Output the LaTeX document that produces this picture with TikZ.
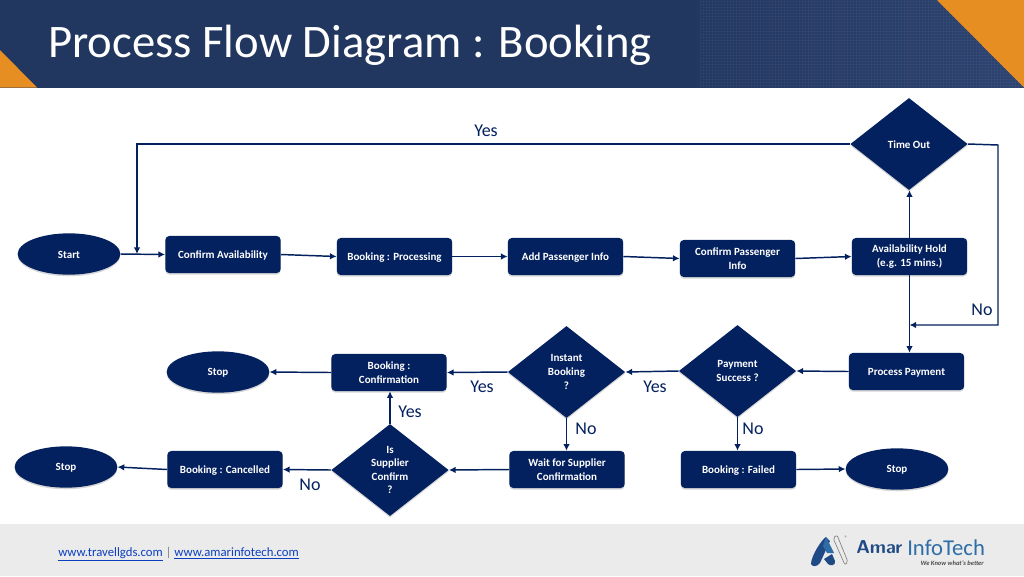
\documentclass[tikz,border=0pt]{standalone}
\usepackage{fontspec}
\setmainfont{Carlito}
\usetikzlibrary{shapes.geometric,arrows.meta,shadows}
\definecolor{navy}{HTML}{04215F}
\definecolor{hdr}{HTML}{22375F}
\definecolor{hdrb}{HTML}{2C4270}
\definecolor{org}{HTML}{E68E22}
\definecolor{foot}{HTML}{EBEBEB}
\definecolor{lnk}{HTML}{0B3FC0}
\definecolor{logoa}{HTML}{1F4A86}
\definecolor{logob}{HTML}{2E6DA8}
\tikzset{
  x=0.75pt,y=-0.75pt,
  shad/.style={drop shadow={opacity=.16,shadow xshift=0pt,shadow yshift=-1.2pt,fill=black}},
  txt/.style={text=white,font=\bfseries\fontsize{8.25}{10.2}\selectfont,align=center,inner sep=0pt,execute at begin node={\rule{0pt}{6.9pt}}},
  bx/.style={txt,fill=navy,rounded corners=3pt,minimum width=86.5pt,minimum height=27.8pt,shad},
  endcap/.style={txt,ellipse,fill=navy,minimum width=77pt,minimum height=31pt,shad},
  dec/.style={txt,diamond,fill=navy,aspect=1.28,minimum width=88pt,minimum height=69pt,shad},
  conn/.style={draw=navy,line width=1.1pt,-{Latex[length=5pt,width=5pt]}},
  lab/.style={text=navy,font=\fontsize{13.5}{15}\selectfont,inner sep=0pt,yshift=-.6pt},
}
\begin{document}
\begin{tikzpicture}
\useasboundingbox (0,0) rectangle (1024,576);
\fill[white] (0,0) rectangle (1024,576);
% header
\fill[hdr] (0,0) rectangle (1024,87.5);
\shade[left color=hdr,right color=hdrb] (680,0) rectangle (1024,87.5);
\foreach \k in {0,1,...,28}{\draw[white,opacity=.035,line width=.3pt] (700,\k*3+1) -- (1024,\k*3+1);}
\foreach \k in {0,1,...,108}{\draw[white,opacity=.035,line width=.3pt] (700+\k*3,0) -- (700+\k*3,87.5);}
\fill[org] (0,50) -- (37,87.5) -- (0,87.5) -- cycle;
\fill[org] (937,0) -- (1024,0) -- (1024,87.5) -- cycle;
\node[anchor=base west,text=white,inner sep=0pt,font=\fontsize{35}{38}\selectfont] (title) at (48,57) {Process Flow Diagram : Booking};
% footer
\fill[foot] (0,524) rectangle (1024,576);
\node[anchor=west,inner sep=0pt,font=\fontsize{9.55}{11}\selectfont] (links) at (58,554) {\textcolor{lnk}{\underline{www.travellgds.com}}\textcolor{gray}{~|~}\textcolor{lnk}{\underline{www.amarinfotech.com}}};
% logo
\fill[logoa] (811,564) .. controls (811,556) and (822,539) .. (826,537) -- (830,541) -- (820,563) .. controls (817,567) and (812,567) .. (811,564) -- cycle;
\fill[logob] (826,537) -- (834,553) -- (827,553) -- (823,546) -- cycle;
\fill[logoa] (824,559) -- (832,554) -- (835,561) .. controls (836,566) and (830,566) .. (828,564) -- cycle;
\draw[gray,line width=.5pt,rounded corners=1.5pt] (837,535) -- (848,562) -- (845,565) -- (833,538) -- cycle;
\node[text=gray,inner sep=0pt,font=\fontsize{5}{5}\selectfont] (reg) at (846,538) {®};
\node[text=logoa,inner sep=0pt,anchor=west,font=\sffamily\bfseries\fontsize{14}{16}\selectfont] (amar) at (856,547) {Amar};
\node[text=logob,inner sep=0pt,anchor=base west,font=\fontsize{17}{18}\selectfont] (info) at (907,555) {InfoTech};
\node[text=black!70,inner sep=0pt,anchor=base east,font=\bfseries\itshape\fontsize{4.9}{5}\selectfont] (tag) at (984,565) {We Know what's better};
% nodes
\node[endcap] (start) at (69,254) {Start};
\node[bx] (avail) at (223,254.5) {Confirm Availability};
\node[bx] (proc) at (394.5,256.5) {Booking : Processing};
\node[bx] (pass) at (565.5,256.5) {Add Passenger Info};
\node[bx] (cpi) at (737.5,258.5) {Confirm Passenger\\Info};
\node[bx] (hold) at (909.5,256.5) {Availability Hold\\(e.g. 15 mins.)};
\node[dec] (tout) at (909,144) {Time Out};
\node[bx] (pay) at (906.5,371.5) {Process Payment};
\node[dec] (paid) at (737.5,371) {Payment\\Success ?};
\node[dec] (inst) at (566.5,372) {Instant\\Booking\\?};
\node[bx] (conf) at (389,372.5) {Booking :\\Confirmation};
\node[endcap] (stopa) at (218,372) {Stop};
\node[bx] (wait) at (567,469.5) {Wait for Supplier\\Confirmation};
\node[dec] (sup) at (390,470) {Is\\Supplier\\Confirm\\?};
\node[bx] (canc) at (225,469.5) {Booking : Cancelled};
\node[endcap] (stopb) at (66,467) {Stop};
\node[bx] (fail) at (738.5,469.5) {Booking : Failed};
\node[endcap] (stopc) at (897,469) {Stop};
% free corners
\coordinate (c1) at (137,144);
\coordinate (c2) at (137,254);
\coordinate (c3) at (998,145);
\coordinate (c4) at (998,325);
\coordinate (c5) at (909.5,325);
% connectors
\draw[conn] (start.east) -- (avail.west);
\draw[conn] (avail.east) -- (proc.west);
\draw[conn] (proc.east) -- (pass.west);
\draw[conn] (pass.east) -- (cpi.west);
\draw[conn] (cpi.east) -- (hold.west);
\draw[conn] (hold.north) -- (hold.north |- tout.south);
\draw[conn] (hold.south) -- (hold.south |- pay.north);
\draw[conn] (tout.west) -- (c1) -- (c2);
\draw[conn] (tout.east) -- (c3) -- (c4) -- (c5);
\draw[conn] (pay.west) -- (paid.east);
\draw[conn] (paid.west) -- (inst.east);
\draw[conn] (inst.west) -- (conf.east);
\draw[conn] (conf.west) -- (stopa.east);
\draw[conn] (inst.south) -- (inst.south |- wait.north);
\draw[conn] (paid.south) -- (paid.south |- fail.north);
\draw[conn] (fail.east) -- (stopc.west);
\draw[conn] (wait.west) -- (sup.east);
\draw[conn] (sup.north) -- (sup.north |- conf.south);
\draw[conn] (sup.west) -- (canc.east);
\draw[conn] (canc.west) -- (stopb.east);
% labels
\node[lab] (l1) at (486,130) {Yes};
\node[lab] (l2) at (982,309) {No};
\node[lab] (l3) at (655,386) {Yes};
\node[lab] (l4) at (482,386) {Yes};
\node[lab] (l5) at (753,428) {No};
\node[lab] (l6) at (586,428) {No};
\node[lab] (l7) at (410,411) {Yes};
\node[lab] (l8) at (310,484) {No};
\end{tikzpicture}
\end{document}
